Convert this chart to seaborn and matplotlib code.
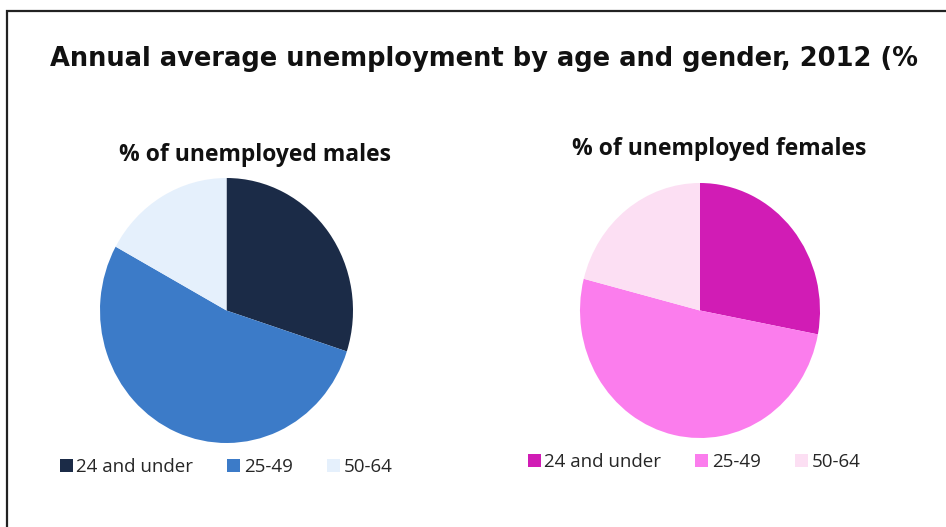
import matplotlib
matplotlib.use("Agg")
import matplotlib.pyplot as plt
import seaborn as sns
from matplotlib.patches import Rectangle

# data
age_groups = ["24 and under", "25-49", "50-64"]
males_pct = [30, 53, 17]
females_pct = [28, 51, 21]

male_colors = ["#1b2b47", "#3c7bc8", "#e5f0fc"]
female_colors = ["#d11cb5", "#fb7ded", "#fcdff3"]

sns.set_theme(style="white")
plt.rcParams['font.family'] = ['DejaVu Sans']

W, H = 946, 527
fig = plt.figure(figsize=(W / 100, H / 100), dpi=100)

# outer frame (only top and left are visible in the original)
fig.patches.append(Rectangle((7 / W, -0.05), 1.1, 1 - 11 / H + 0.05,
                             transform=fig.transFigure, fill=False,
                             edgecolor="#222222", linewidth=1.6))

fig.text(50 / W, 1 - 59 / H, "Annual average unemployment by age and gender, 2012 (%",
         fontsize=18.5, fontweight="bold", ha="left", va="center", color="#111111")


def pie_panel(x0, x1, y0, y1, values, colors, title, title_x, title_y, legend_x, legend_y):
    ax = fig.add_axes([x0 / W, 1 - y1 / H, (x1 - x0) / W, (y1 - y0) / H])
    wedges, _ = ax.pie(values, colors=colors, startangle=90, counterclock=False,
                       radius=1, wedgeprops=dict(linewidth=0))
    ax.set_xlim(-1, 1)
    ax.set_ylim(-1, 1)
    ax.set_aspect("auto")
    ax.axis("off")
    fig.text(title_x / W, 1 - title_y / H, title, fontsize=16.5,
             fontweight="bold", ha="center", va="center", color="#111111",
             family="Open Sans")
    fig.legend(wedges, age_groups, loc="center left",
               bbox_to_anchor=(legend_x / W, 1 - legend_y / H), ncol=3,
               frameon=False, handlelength=0.7, handleheight=0.7,
               handletextpad=0.2, columnspacing=1.8, borderaxespad=0,
               prop={"family": "Open Sans", "size": 13.5})


pie_panel(100, 353, 178, 443, males_pct, male_colors,
          "% of unemployed males", 255, 155, 52, 467)
pie_panel(580, 820, 183, 438, females_pct, female_colors,
          "% of unemployed females", 719, 149, 520, 462)

fig.savefig("out.png", dpi=100, facecolor="white")
